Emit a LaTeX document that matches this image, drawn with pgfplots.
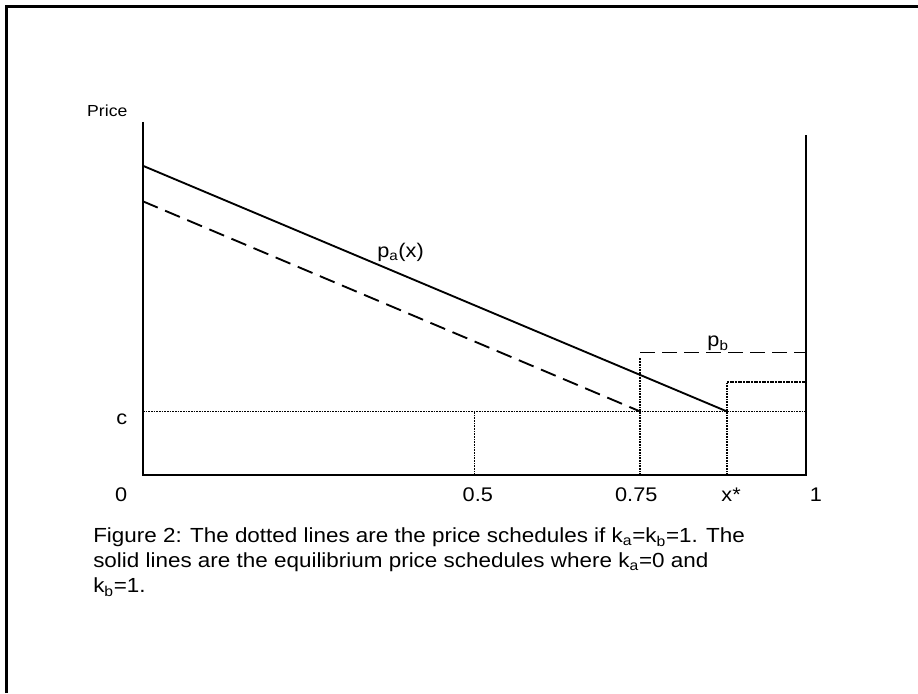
\documentclass[border=0pt]{standalone}
\usepackage{fontspec}
\setmainfont{Liberation Sans}[FakeStretch=1.1]
\usepackage{pgfplots}
\pgfplotsset{compat=1.18}
\tikzset{lbl/.style={font=\fontsize{14.8}{18}\selectfont, inner sep=0pt}}
\begin{document}
\begin{tikzpicture}
\path[use as bounding box] (0pt,0pt) rectangle (688.5pt,519.75pt);
% frame (top and left edges)
\draw[line width=2.25pt] (4.9pt,0pt) -- (4.9pt,514.9pt) -- (688.5pt,514.9pt);
\begin{axis}[
  at={(107.25pt,163.5pt)}, anchor=south west,
  scale only axis, width=497.25pt, height=264.75pt,
  xmin=0, xmax=1, ymin=0, ymax=5.56,
  axis lines=none, clip=false,
  every axis plot/.append style={black, no marks},
]
% axes frame
\addplot[line width=1.5pt] coordinates {(0,5.56) (0,0) (1,0) (1,5.35)};
% p_a(x): solid equilibrium schedule
\addplot[line width=1.4pt] coordinates {(0,4.87) (0.881,1)};
% dashed line
\addplot[line width=1.4pt, dash pattern=on 12pt off 6pt] coordinates {(0,4.31) (0.75,1)};
% p_b dashed
\addplot[line width=1.4pt, dash pattern=on 11pt off 5.5pt] coordinates {(0.75,1.93) (1,1.93)};
% dotted lines
\addplot[line width=1.3pt, dash pattern=on 1.3pt off 0.7pt] coordinates {(0,1) (1,1)};
\addplot[line width=1.3pt, dash pattern=on 1.3pt off 0.7pt] coordinates {(0.5,0) (0.5,1)};
\addplot[line width=1.3pt, dash pattern=on 1.3pt off 0.7pt] coordinates {(0.75,0) (0.75,1.85)};
\addplot[line width=1.3pt, dash pattern=on 1.3pt off 0.7pt] coordinates {(0.881,0) (0.881,1.47) (1,1.47)};
% labels
\node[font=\fontsize{12}{14}\selectfont, inner sep=0pt, anchor=base west] at (axis cs:-0.0845,5.65) {Price};
\node[lbl, anchor=base west] at (axis cs:-0.0407,0.80) {c};
\node[lbl, anchor=base west] at (axis cs:0.353,3.42) {p\textsubscript{a}(x)};
\node[lbl, anchor=base west] at (axis cs:0.851,2.02) {p\textsubscript{b}};
\node[lbl, anchor=base] at (axis cs:-0.033,-0.425) {0};
\node[lbl, anchor=base] at (axis cs:0.505,-0.425) {0.5};
\node[lbl, anchor=base] at (axis cs:0.744,-0.425) {0.75};
\node[lbl, anchor=base] at (axis cs:0.887,-0.425) {x*};
\node[lbl, anchor=base] at (axis cs:1.015,-0.425) {1};
\end{axis}
\begin{scope}[every node/.style={anchor=base west, inner sep=0pt, font=\fontsize{15.3}{18.75}\selectfont}]
\node at (69.75pt,112.5pt) {Figure 2: The dotted lines are the price schedules if k\textsubscript{a}=k\textsubscript{b}=1. The};
\node at (69.75pt,93.75pt) {solid lines are the equilibrium price schedules where k\textsubscript{a}=0 and};
\node at (69.75pt,75pt) {k\textsubscript{b}=1.};
\end{scope}
\end{tikzpicture}
\end{document}
